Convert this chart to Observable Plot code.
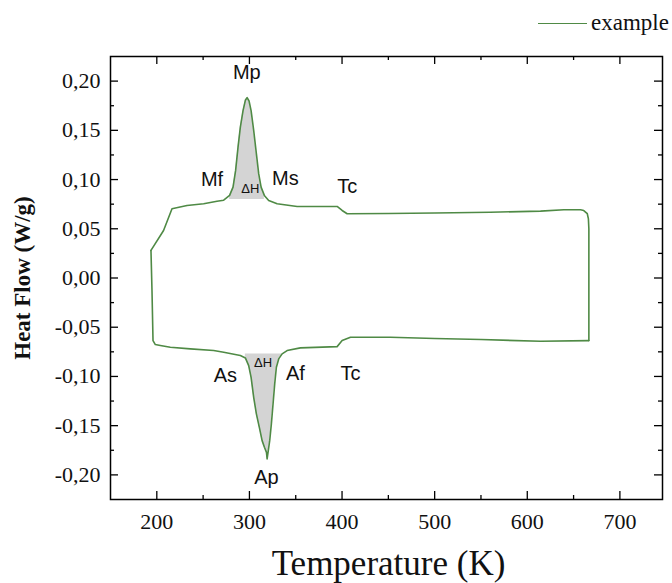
<!DOCTYPE html>
<html><head><meta charset="utf-8">
<script src="https://cdn.jsdelivr.net/npm/d3@7"></script>
<script src="https://cdn.jsdelivr.net/npm/@observablehq/plot@0.6"></script>
<style>
body{margin:0;background:#fff;}
#wrap{position:relative;width:672px;height:583px;overflow:hidden;}
#legline{position:absolute;left:538px;top:23px;width:49px;height:0;border-top:1.6px solid #4f8a45;}
#legtext{position:absolute;left:591px;top:11px;font:23px/23px "Liberation Serif",serif;color:#111;white-space:nowrap;}
</style></head><body>
<div id="wrap"><div id="chart"></div><div id="legline"></div><span id="legtext">example</span></div>
<script>
// Heating branch (lower curve, incl. left vertical), temperature in K and heat flow in W/g
const heatingT  = [193.7, 194.8, 195.9, 198.4, 203.8, 214.6, 236.2, 261.4, 272.2, 290.2, 295.6, 299.2, 301.8, 304.6, 307.5, 310.7, 313.7, 316.2, 318.4, 319.1, 320.1, 321.9, 323.7, 325.5, 327.3, 329.1, 331.6, 335.3, 340.7, 355.0, 394.7, 400.1, 409.1, 452.3, 500, 550, 614.3, 666.5];
const heatingHF = [0.028, -0.0127, -0.0636, -0.0676, -0.0686, -0.0704, -0.0720, -0.0737, -0.0754, -0.0788, -0.0812, -0.089, -0.1009, -0.1212, -0.138, -0.1517, -0.1652, -0.172, -0.1771, -0.1838, -0.1771, -0.1652, -0.1482, -0.128, -0.1076, -0.0907, -0.0822, -0.0771, -0.0737, -0.0710, -0.0697, -0.0636, -0.0602, -0.0602, -0.0615, -0.0625, -0.0643, -0.0636];
// Cooling branch (upper curve, incl. right vertical)
const coolingT  = [666.5, 666.5, 666.0, 664.8, 661.0, 657.5, 639.5, 614.3, 560, 500, 450, 405.5, 400.1, 394.7, 351.5, 329.9, 320.8, 316.1, 312.6, 310.0, 307.5, 304.6, 301.8, 299.6, 297.5, 295.6, 293.1, 290.2, 287.7, 285.1, 282.3, 278.6, 272.2, 265.0, 250.6, 232.6, 216.4, 207.3, 193.7];
const coolingHF = [-0.0636, 0.050, 0.060, 0.0653, 0.0685, 0.0693, 0.0693, 0.0679, 0.0668, 0.0660, 0.0655, 0.0653, 0.0686, 0.0727, 0.0727, 0.0754, 0.0788, 0.0839, 0.0923, 0.106, 0.1263, 0.150, 0.170, 0.1798, 0.1832, 0.1805, 0.170, 0.1533, 0.133, 0.1093, 0.0923, 0.0839, 0.079, 0.078, 0.0754, 0.0737, 0.0704, 0.0483, 0.028];
// Shaded enthalpy regions
const upperRange = [278, 319], upperBase = 0.0798;
const lowerRange = [295, 336], lowerBase = -0.0771;
// Axis ticks
const xTicks = [200, 300, 400, 500, 600, 700];
const xMinor = [250, 350, 450, 550, 650];
const yTicks = [-0.20, -0.15, -0.10, -0.05, 0, 0.05, 0.10, 0.15, 0.20];
const yMinor = [-0.175, -0.125, -0.075, -0.025, 0.025, 0.075, 0.125, 0.175];
// Annotations
const labelText = ["Mp", "Mf", "Ms", "Tc", "As", "Af", "Tc", "Ap"];
const labelT    = [297.2, 259.6, 338.8, 405.5, 274.0, 349.6, 409.1, 318.3];
const labelHF   = [0.209, 0.100, 0.101, 0.093, -0.099, -0.0974, -0.0974, -0.2025];
const dhText = ["ΔH", "ΔH"];
const dhT    = [301.0, 314.7];
const dhHF   = [0.091, -0.0866];

const green = "#4f8a45";
const heating = heatingT.map((t, i) => ({t, hf: heatingHF[i]}));
const cooling = coolingT.map((t, i) => ({t, hf: coolingHF[i]}));
const upperFill = cooling.filter(d => d.t >= upperRange[0] && d.t <= upperRange[1]);
const lowerFill = heating.filter(d => d.t >= lowerRange[0] && d.t <= lowerRange[1]);
const labels = labelText.map((s, i) => ({s, t: labelT[i], hf: labelHF[i]}));
const dh = dhText.map((s, i) => ({s, t: dhT[i], hf: dhHF[i]}));

const W = 672, H = 583, mL = 110, mR = 10, mT = 56, mB = 84;
const fw = W - mL - mR, fh = H - mT - mB;
const fmt = d => d.toFixed(2).replace(".", ",");

const chart = Plot.plot({
  width: W, height: H,
  marginLeft: mL, marginRight: mR, marginTop: mT, marginBottom: mB,
  x: {domain: [150, 746]},
  y: {domain: [-0.225, 0.225]},
  style: {fontFamily: "Liberation Serif", fontSize: "22px", color: "#111", background: "#fff"},
  marks: [
    Plot.areaY(upperFill, {x: "t", y1: () => upperBase, y2: "hf", fill: "#d4d4d4"}),
    Plot.areaY(lowerFill, {x: "t", y1: () => lowerBase, y2: "hf", fill: "#d4d4d4"}),
    Plot.line(heating, {x: "t", y: "hf", stroke: green, strokeWidth: 1.6}),
    Plot.line(cooling, {x: "t", y: "hf", stroke: green, strokeWidth: 1.6}),
    Plot.frame({stroke: "#000", strokeWidth: 1.5}),
    Plot.tickX(xTicks, {x: d => d, insetTop: fh - 8, stroke: "#000", strokeWidth: 1.3}),
    Plot.tickX(xTicks, {x: d => d, insetBottom: fh - 8, stroke: "#000", strokeWidth: 1.3}),
    Plot.tickX(xMinor, {x: d => d, insetTop: fh - 4, stroke: "#000", strokeWidth: 1.3}),
    Plot.tickX(xMinor, {x: d => d, insetBottom: fh - 4, stroke: "#000", strokeWidth: 1.3}),
    Plot.tickY(yTicks, {y: d => d, insetRight: fw - 8, stroke: "#000", strokeWidth: 1.3}),
    Plot.tickY(yTicks, {y: d => d, insetLeft: fw - 8, stroke: "#000", strokeWidth: 1.3}),
    Plot.tickY(yMinor, {y: d => d, insetRight: fw - 4, stroke: "#000", strokeWidth: 1.3}),
    Plot.tickY(yMinor, {y: d => d, insetLeft: fw - 4, stroke: "#000", strokeWidth: 1.3}),
    Plot.axisX(xTicks, {tickSize: 0, tickPadding: 14, label: null, fontSize: 22}),
    Plot.axisY(yTicks, {tickSize: 0, tickPadding: 10, label: null, tickFormat: fmt, fontSize: 22}),
    Plot.text(labels, {x: "t", y: "hf", text: "s", fontFamily: "Liberation Sans", fontSize: 20, fill: "#111"}),
    Plot.text(dh, {x: "t", y: "hf", text: "s", fontFamily: "Liberation Sans", fontSize: 13, fill: "#111"}),
    Plot.text(["Heat Flow (W/g)"], {text: d => d, frameAnchor: "left", textAnchor: "middle", lineAnchor: "middle", rotate: -90, dx: -88, fontSize: 23, fontWeight: "bold", fill: "#111"}),
    Plot.text(["Temperature (K)"], {text: d => d, frameAnchor: "bottom", textAnchor: "middle", lineAnchor: "middle", dy: 64, dx: 2, fontSize: 35, fill: "#111"})
  ]
});
document.getElementById("chart").appendChild(chart);
</script>
</body></html>
